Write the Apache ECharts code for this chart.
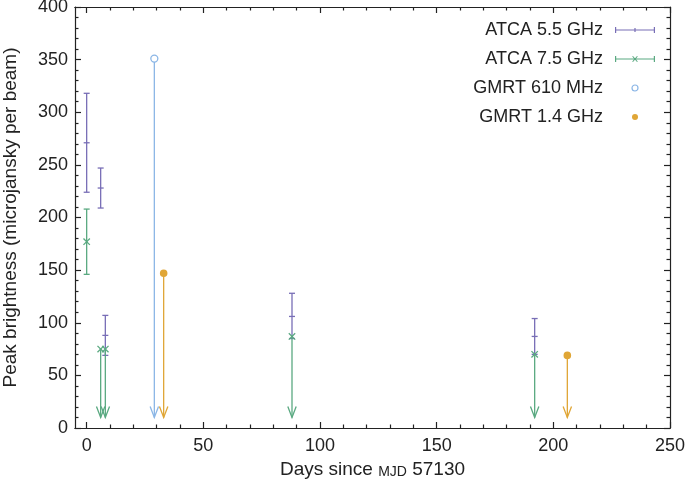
<!DOCTYPE html>
<html>
<head>
<meta charset="utf-8">
<script src="https://cdn.jsdelivr.net/npm/echarts@6/dist/echarts.min.js"></script>
<style>html,body{margin:0;padding:0;background:#fff}#c{width:685px;height:489px}</style>
</head>
<body>
<div id="c"></div>
<script>
// ---- data ----
// [day, peak, errLow, errHigh]
var atca55 = [[0, 271, 224, 318], [6, 228, 209, 247], [8, 88, 69, 107], [88, 106, 85, 128], [192, 87, 70, 104]];
var atca75Det = [[0, 177, 146, 208]];
// upper limits: [day, limit]
var atca75Lim = [[6, 75], [8, 75], [88, 87], [192, 70]];
var gmrt610Lim = [[29, 351]];
var gmrt14Lim = [[33, 147], [206, 69]];
var arrowTo = 10;
var xMajorTicks = [0, 50, 100, 150, 200, 250];
var xMinorTicks = [10, 20, 30, 40, 60, 70, 80, 90, 110, 120, 130, 140, 160, 170, 180, 190, 210, 220, 230, 240];
var seriesNames = ['ATCA 5.5 GHz', 'ATCA 7.5 GHz', 'GMRT 610 MHz', 'GMRT 1.4 GHz'];

var C = {purple: '#786eb6', green: '#5aa981', blue: '#8bb6e6', gold: '#e0a636'};
var FONT = 'Liberation Sans';
var LW = 1.3;

function markerShape(kind, p, color) {
  var s = 3.2;
  if (kind === 'tick') {
    return {type: 'line', shape: {x1: p[0] - 3, y1: p[1], x2: p[0] + 3, y2: p[1]}, style: {stroke: color, lineWidth: LW}};
  }
  if (kind === 'x') {
    return {type: 'group', children: [
      {type: 'line', shape: {x1: p[0] - s, y1: p[1] - s, x2: p[0] + s, y2: p[1] + s}, style: {stroke: color, lineWidth: LW}},
      {type: 'line', shape: {x1: p[0] - s, y1: p[1] + s, x2: p[0] + s, y2: p[1] - s}, style: {stroke: color, lineWidth: LW}}
    ]};
  }
  if (kind === 'open') {
    return {type: 'circle', shape: {cx: p[0], cy: p[1], r: 3.5}, style: {fill: '#fff', stroke: color, lineWidth: LW}};
  }
  return {type: 'circle', shape: {cx: p[0], cy: p[1], r: 3.8}, style: {fill: color, stroke: null}};
}

function errRender(kind, color) {
  return function (params, api) {
    var x = api.value(0);
    var c = api.coord([x, api.value(1)]);
    var lo = api.coord([x, api.value(2)]);
    var hi = api.coord([x, api.value(3)]);
    var st = {stroke: color, lineWidth: LW};
    return {type: 'group', children: [
      {type: 'line', shape: {x1: lo[0], y1: lo[1], x2: hi[0], y2: hi[1]}, style: st},
      {type: 'line', shape: {x1: lo[0] - 3, y1: lo[1], x2: lo[0] + 3, y2: lo[1]}, style: st},
      {type: 'line', shape: {x1: hi[0] - 3, y1: hi[1], x2: hi[0] + 3, y2: hi[1]}, style: st},
      markerShape(kind, c, color)
    ]};
  };
}

function limRender(kind, color) {
  return function (params, api) {
    var x = api.value(0);
    var c = api.coord([x, api.value(1)]);
    var t = api.coord([x, arrowTo]);
    var st = {stroke: color, lineWidth: LW};
    return {type: 'group', children: [
      {type: 'line', shape: {x1: c[0], y1: c[1], x2: t[0], y2: t[1]}, style: st},
      {type: 'polyline', shape: {points: [[t[0] - 4.2, t[1] - 11], [t[0], t[1]], [t[0] + 4.2, t[1] - 11]]}, style: {stroke: color, lineWidth: LW, fill: null}},
      markerShape(kind, c, color)
    ]};
  };
}

var iconBar = 'path://M0,0h1.2v6h-1.2z M38.8,0h1.2v6h-1.2z M1.2,2.4h37.6v1.2h-37.6z M19.4,1h1.2v4h-1.2z';
var iconBarX = 'path://M0,0h1.2v6h-1.2z M38.8,0h1.2v6h-1.2z M1.2,2.4h37.6v1.2h-37.6z M17.2,0.6L18,0L22.8,5.4L22,6z M22,0L22.8,0.6L18,6L17.2,5.4z';

var axisLineStyle = {color: '#222', width: 1.2};
var txt = {fontFamily: FONT, fontSize: 18, color: '#222'};

function xAx(pos, ticks, len, labels) {
  return {
    type: 'value', position: pos, min: -5, max: 250,
    axisLine: {show: true, onZero: false, lineStyle: axisLineStyle},
    axisTick: {show: true, inside: true, length: len, customValues: ticks, lineStyle: axisLineStyle},
    axisLabel: labels ? Object.assign({show: true, customValues: xMajorTicks, margin: 9}, txt) : {show: false},
    splitLine: {show: false}
  };
}
function yAx(pos, labels) {
  return {
    type: 'value', position: pos, min: 0, max: 400, interval: 50,
    axisLine: {show: true, onZero: false, lineStyle: axisLineStyle},
    axisTick: {show: true, inside: true, length: 6, lineStyle: axisLineStyle},
    minorTick: {show: true, splitNumber: 5, length: 3.5, lineStyle: axisLineStyle},
    axisLabel: labels ? Object.assign({show: true, margin: 7}, txt) : {show: false},
    splitLine: {show: false}
  };
}

var xAxes = [xAx('bottom', xMajorTicks, 6, true), xAx('bottom', xMinorTicks, 3.5, false), xAx('top', xMajorTicks, 6, false), xAx('top', xMinorTicks, 3.5, false)];
xAxes[0].name = '{n|Days since }{sc|MJD}{n| 57130}';
xAxes[0].nameLocation = 'middle';
xAxes[0].nameGap = 27;
xAxes[0].nameTextStyle = {fontFamily: FONT, fontSize: 19, color: '#222', rich: {
  n: {fontFamily: FONT, fontSize: 19, color: '#222', lineHeight: 22, verticalAlign: 'bottom'},
  sc: {fontFamily: FONT, fontSize: 14, color: '#222', lineHeight: 22, verticalAlign: 'bottom', padding: [0, 0, 0, 0]}
}};
var yAxes = [yAx('left', true), yAx('right', false)];
yAxes[0].name = 'Peak brightness (microjansky per beam)';
yAxes[0].nameLocation = 'middle';
yAxes[0].nameGap = 55;
yAxes[0].nameTextStyle = {fontFamily: FONT, fontSize: 19, color: '#222'};

function cs(name, data, render, color, z) {
  return {type: 'custom', name: name, data: data, renderItem: render, itemStyle: {color: color}, z: z || 2,
    xAxisIndex: 0, yAxisIndex: 0, clip: false, silent: true, animation: false};
}

var chart = echarts.init(document.getElementById('c'), null, {renderer: 'canvas'});
chart.setOption({
  animation: false,
  grid: {left: 75, right: 15, top: 7, bottom: 61, containLabel: false, outerBoundsMode: 'none'},
  xAxis: xAxes,
  yAxis: yAxes,
  legend: {
    orient: 'vertical', right: 25, top: 16, align: 'right',
    itemWidth: 40, itemHeight: 6, itemGap: 11,
    selectedMode: false,
    textStyle: {fontFamily: FONT, fontSize: 18, color: '#222', padding: [0, 7, 0, 0]},
    data: [
      {name: seriesNames[0], icon: iconBar},
      {name: seriesNames[1], icon: iconBarX},
      {name: seriesNames[2], icon: 'circle', itemStyle: {color: '#fff', borderColor: C.blue, borderWidth: 1.2}},
      {name: seriesNames[3], icon: 'circle', itemStyle: {color: C.gold}}
    ]
  },
  series: [
    cs(seriesNames[0], atca55, errRender('tick', C.purple), C.purple, 2),
    cs(seriesNames[1], atca75Det, errRender('x', C.green), C.green, 3),
    cs(seriesNames[1], atca75Lim, limRender('x', C.green), C.green, 3),
    cs(seriesNames[2], gmrt610Lim, limRender('open', C.blue), C.blue, 3),
    cs(seriesNames[3], gmrt14Lim, limRender('dot', C.gold), C.gold, 3)
  ]
});
</script>
</body>
</html>
